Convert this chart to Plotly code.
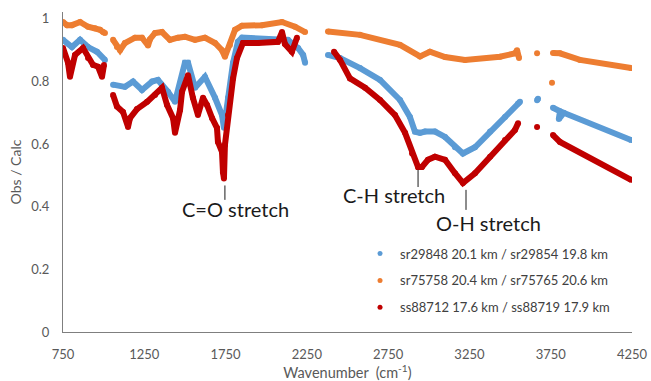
import plotly.graph_objects as go

# ---- data ----
names = ["sr29848 20.1 km / sr29854 19.8 km",
         "sr75758 20.4 km / sr75765 20.6 km",
         "ss88712 17.6 km / ss88719 17.9 km"]
colors = ["#5B9BD5", "#ED7D31", "#C00000"]

blue_x = [750, 805, 855, 904, 959, 1008, None,
          1058, 1131, 1181, 1236, 1298, 1334, 1396, 1439, 1500, 1519, 1562, 1623, 1685, 1728, 1740, 1765,
          1796, 1826, 1851, 2134, 2196, 2227, 2239, None,
          2380, 2454, 2577, 2700, 2823, 2884, 2915, 2946, 2977, 3038, 3100, 3161, 3210, 3284, 3377,
          3469, 3549, 3561, None,
          3666, 3672, None,
          3764, 3807, 3800, 3830, 4244]
blue_y = [0.933, 0.91, 0.933, 0.91, 0.895, 0.869, None,
          0.79, 0.783, 0.80, 0.773, 0.80, 0.805, 0.767, 0.735, 0.86, 0.86, 0.78, 0.815, 0.748, 0.693, 0.652, 0.748,
          0.86, 0.927, 0.94, 0.933, 0.907, 0.885, 0.86, None,
          0.885, 0.875, 0.843, 0.805, 0.741, 0.687, 0.64, 0.636, 0.64, 0.64, 0.623, 0.59, 0.57, 0.59, 0.64,
          0.687, 0.73, 0.735, None,
          0.74, 0.745, None,
          0.716, 0.705, 0.68, 0.70, 0.613]

orange_x = [750, 775, 805, 855, 904, 947, 978, 996, 1008, None,
            1058, 1082, 1101, 1131, 1193, 1236, 1273, 1285, 1316, 1359, 1408, 1457, 1500, 1562, 1623, 1685,
            1728, 1746, 1777, 1808, 1851, 1974, 2097, 2177, 2239, None,
            2380, 2577, 2823, 2946, 3007, 3100, 3223, 3438, 3530, 3543, 3555, None,
            3666, None,
            3758, None,
            3764, 3807, 3930, 4244]
orange_y = [0.99, 0.98, 0.98, 0.99, 0.975, 0.97, 0.965, 0.958, 0.955, None,
            0.933, 0.91, 0.90, 0.923, 0.94, 0.94, 0.915, 0.935, 0.955, 0.958, 0.933, 0.94, 0.943, 0.933, 0.94, 0.923,
            0.90, 0.879, 0.917, 0.965, 0.978, 0.98, 0.99, 0.975, 0.958, None,
            0.96, 0.949, 0.917, 0.88, 0.895, 0.878, 0.869, 0.879, 0.89, 0.90, 0.875, None,
            0.89, None,
            0.796, None,
            0.891, 0.89, 0.869, 0.843]

red_x = [750, 781, 793, 824, 873, 904, 935, 966, 990, 1002, None,
         1058, 1082, 1119, 1150, 1162, 1205, 1267, 1316, 1359, 1390, 1427, 1439, 1470, 1482, 1519, 1549,
         1580, 1611, 1636, 1667, 1697, 1703, 1728, 1734, 1740, 1746, 1765, 1796, 1820, 1857, 1949, 2072,
         2097, 2115, 2158, 2189, None,
         2417, 2454, 2515, 2608, 2700, 2792, 2854, 2897, 2934, 2958, 2995, 3038, 3100, 3161, 3210, 3284,
         3377, 3469, 3530, 3549, None,
         3666, None,
         3764, 3807, 4244]
red_y = [0.907, 0.86, 0.815, 0.885, 0.907, 0.875, 0.853, 0.847, 0.815, 0.853, None,
         0.757, 0.72, 0.703, 0.655, 0.683, 0.712, 0.735, 0.757, 0.78, 0.725, 0.683, 0.636, 0.709, 0.767, 0.82, 0.748,
         0.693, 0.748, 0.725, 0.683, 0.652, 0.607, 0.575, 0.51, 0.49, 0.597, 0.693, 0.81, 0.875, 0.923, 0.923, 0.927,
         0.958, 0.92, 0.895, 0.94, None,
         0.895, 0.869, 0.81, 0.78, 0.741, 0.693, 0.636, 0.57, 0.527, 0.527, 0.55, 0.56, 0.55, 0.507, 0.476, 0.507,
         0.56, 0.613, 0.645, 0.667, None,
         0.655, None,
         0.629, 0.607, 0.486]

x_ticks = [750, 1250, 1750, 2250, 2750, 3250, 3750, 4250]
y_ticks = [0, 0.2, 0.4, 0.6, 0.8, 1]
y_tick_text = ["0", "0.2", "0.4", "0.6", "0.8", "1"]

# annotation labels: (text, label x, label y, tick x, tick y0, tick y1)
labels = [("C=O stretch", 1808, 0.393, 1746, 0.422, 0.468),
          ("C-H stretch", 2786, 0.438, 2934, 0.463, 0.518),
          ("O-H stretch", 3370, 0.348, 3229, 0.390, 0.454)]

FONT = "Lato"
TXT = "#595959"

fig = go.Figure()
series = [(blue_x, blue_y), (orange_x, orange_y), (red_x, red_y)]
for (xs, ys), c in zip(series, colors):
    fig.add_trace(go.Scatter(x=xs, y=ys, mode="lines+markers",
                             line=dict(color=c, width=6),
                             marker=dict(color=c, size=6),
                             connectgaps=False, showlegend=False, hoverinfo="skip"))
for i, (n, c) in enumerate(zip(names, colors)):
    fig.add_trace(go.Scatter(x=[None], y=[None], mode="markers", name=n,
                             marker=dict(color=c, size=5), legendgroup=str(i)))

for text, lx, ly, tx, ty0, ty1 in labels:
    fig.add_annotation(x=lx, y=ly, text=text, showarrow=False,
                       font=dict(family=FONT, size=20, color="#1a1a1a"))
    fig.add_shape(type="line", x0=tx, x1=tx, y0=ty0, y1=ty1,
                  line=dict(color="#1a1a1a", width=1))

fig.update_layout(
    width=651, height=381,
    margin=dict(l=63, r=19, t=12, b=49, autoexpand=False),
    paper_bgcolor="white", plot_bgcolor="white",
    font=dict(family=FONT, size=13, color=TXT),
    legend=dict(x=0.522, y=0.292, xanchor="left", yanchor="top",
                bgcolor="rgba(0,0,0,0)", traceorder="grouped", tracegroupgap=7,
                font=dict(family=FONT, size=13, color="#404040"), itemwidth=30),
    xaxis=dict(range=[750, 4250], tickvals=x_ticks, showgrid=False, zeroline=False,
               showline=True, linecolor="#7f7f7f", linewidth=1, ticks="",
               ticklabelstandoff=10, automargin=False,
               title=dict(text="Wavenumber  (cm<sup>-1</sup>)", standoff=6,
                          font=dict(family=FONT, size=14.5, color=TXT))),
    yaxis=dict(range=[0, 1.022], tickvals=y_ticks, ticktext=y_tick_text, showgrid=False,
               zeroline=False, showline=True, linecolor="#7f7f7f", linewidth=1, ticks="",
               ticklabelstandoff=10, automargin=False,
               title=dict(text="Obs / Calc", standoff=6,
                          font=dict(family=FONT, size=14, color=TXT))),
)

fig.write_html("out.html")
